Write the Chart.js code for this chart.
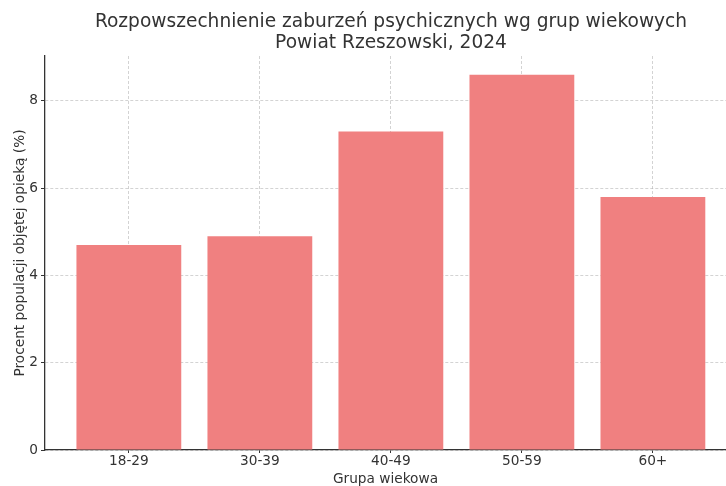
<!DOCTYPE html>
<html><head><meta charset="utf-8">
<script src="https://cdn.jsdelivr.net/npm/chart.js@4/dist/chart.umd.min.js"></script>
<style>html,body{margin:0;padding:0;background:#fff}#wrap{width:726px;height:486px}</style>
</head><body><div id="wrap"><canvas id="c" width="726" height="486"></canvas></div>
<script>
const categories = ["18-29", "30-39", "40-49", "50-59", "60+"];
const values = [4.7, 4.9, 7.3, 8.6, 5.8];
const yTicks = [0, 2, 4, 6, 8];
const titleLines = ["Rozpowszechnienie zaburzeń psychicznych wg grup wiekowych", "Powiat Rzeszowski, 2024"];
const xTitle = "Grupa wiekowa";
const yTitle = "Procent populacji objętej opieką (%)";

const FONT = "'DejaVu Sans', sans-serif";
const gridColor = 'rgba(175,175,175,0.55)';

const titlePlugin = {
  id: 'mplTitle',
  afterDraw(chart) {
    const ctx = chart.ctx;
    ctx.save();
    ctx.fillStyle = '#333';
    ctx.font = "18.6px " + FONT;
    ctx.textAlign = 'center';
    ctx.textBaseline = 'middle';
    titleLines.forEach((t, i) => ctx.fillText(t, 391, 22 + i * 21.5));
    ctx.restore();
  }
};

new Chart(document.getElementById('c'), {
  type: 'bar',
  data: {
    datasets: [{
      data: values.map((v, i) => ({x: i, y: v})),
      backgroundColor: '#F08080',
      borderWidth: 0,
      barPercentage: 0.8,
      categoryPercentage: 1.0
    }]
  },
  plugins: [titlePlugin],
  options: {
    responsive: false,
    animation: false,
    layout: {padding: {left: 0, right: 0, top: 56, bottom: 0}},
    plugins: {
      legend: {display: false},
      tooltip: {enabled: false},
      title: {display: false}
    },
    scales: {
      x: {
        type: 'linear', min: -0.64, max: 4.558, z: 1, offset: false,
        afterBuildTicks: s => { s.ticks = categories.map((c, i) => ({value: i})); },
        afterFit: s => { s.height = 36; },
        ticks: {color: '#333', font: {family: FONT, size: 13.7}, padding: 0,
                callback: (v) => categories[v]},
        grid: {color: gridColor, lineWidth: 1, tickLength: 3, tickColor: '#333', offset: false,
               tickBorderDash: [], drawTicks: true},
        border: {display: true, color: '#333', width: 1.3, dash: [3, 2]},
        title: {display: true, text: xTitle, color: '#333', font: {family: FONT, size: 13.7, lineHeight: 1.0}, padding: {top: 0, bottom: 0}}
      },
      y: {
        type: 'linear', min: 0, max: 9.03, z: 1,
        afterBuildTicks: s => { s.ticks = yTicks.map(v => ({value: v})); },
        afterFit: s => { s.width = 45; },
        ticks: {color: '#333', font: {family: FONT, size: 13.7}, padding: 3},
        grid: {color: gridColor, lineWidth: 1, tickLength: 4, tickColor: '#333',
               tickBorderDash: [], drawTicks: true},
        border: {display: true, color: '#333', width: 1.3, dash: [3, 2]},
        title: {display: true, text: yTitle, color: '#333', font: {family: FONT, size: 13.7}, padding: {top: 12, bottom: 0}}
      }
    }
  }
});
</script></body></html>
